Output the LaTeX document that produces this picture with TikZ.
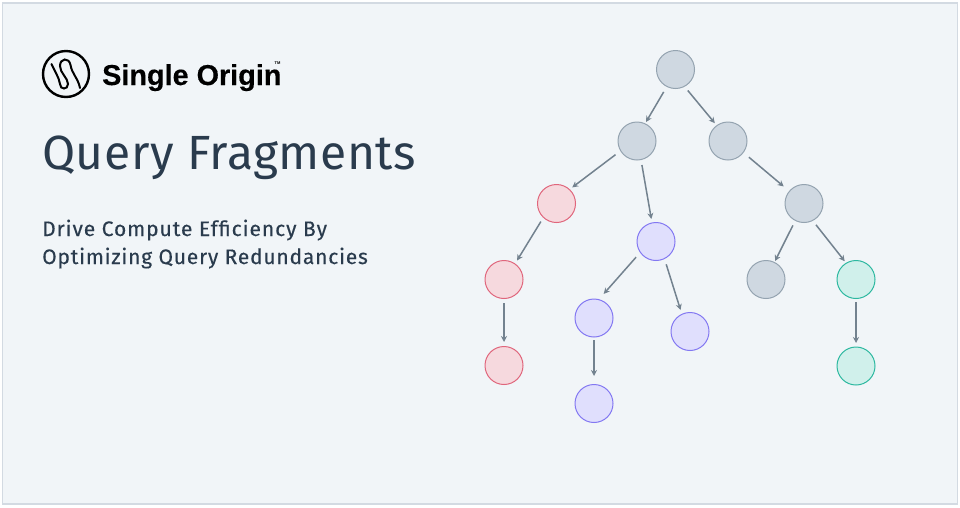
\documentclass[tikz,border=0pt]{standalone}
\usepackage{fontspec}
\setmainfont{Fira Sans}
\newfontfamily\logofont{Liberation Sans}
\usetikzlibrary{arrows.meta}
\definecolor{pagebg}{HTML}{F1F5F8}
\definecolor{framecol}{HTML}{D3DAE2}
\definecolor{inkcol}{HTML}{2A3B4D}
\definecolor{edgecol}{HTML}{73828F}
\definecolor{grayfill}{HTML}{CFD8E1}
\definecolor{graydraw}{HTML}{94A3B0}
\definecolor{redfill}{HTML}{F6D9DE}
\definecolor{reddraw}{HTML}{E0667C}
\definecolor{bluefill}{HTML}{E0DFFD}
\definecolor{bluedraw}{HTML}{8378F2}
\definecolor{tealfill}{HTML}{D0F0EB}
\definecolor{tealdraw}{HTML}{2DB8A0}
\tikzset{
  tree/.style={circle,line width=1pt,minimum size=38pt,inner sep=0pt},
  graytree/.style={tree,draw=graydraw,fill=grayfill},
  redtree/.style={tree,draw=reddraw,fill=redfill},
  bluetree/.style={tree,draw=bluedraw,fill=bluefill},
  tealtree/.style={tree,draw=tealdraw,fill=tealfill},
  gap/.style 2 args={shorten <=#1pt,shorten >=#2pt}
}
\begin{document}
\begin{tikzpicture}[x=1pt,y=-1pt]
    \useasboundingbox (0,0) rectangle (960,507);
    \fill[white] (0,0) rectangle (960,507);
    \draw[framecol,fill=pagebg,line width=1.2pt] (2.6,3) rectangle (957.6,504);

    % logo
    \draw[black,line width=2.4pt] (66,74) circle (23);
    \draw[black,line width=2pt,line cap=round] (51.5,64)
      .. controls (54,70) and (59,77) .. (60,84)
      .. controls (60,90) and (68,90) .. (68,84)
      .. controls (68,78) and (60,73) .. (60,66)
      .. controls (60,58) and (69,57) .. (70.5,65)
      .. controls (72,74) and (78,78) .. (80,88);

    \node[anchor=base west,inner sep=0pt,font=\logofont\bfseries\fontsize{28.8}{29}\selectfont\addfontfeature{FakeBold=0.3},text=black] (logo) at (102,85) {Single Origin};
    \node[anchor=base west,inner sep=0pt,font=\logofont\bfseries\fontsize{4}{4}\selectfont,text=black] (tm) at (274.5,64) {TM};
    \node[anchor=base west,inner sep=0pt,font=\fontsize{48}{48}\selectfont\addfontfeature{LetterSpace=1.2},text=inkcol] (title) at (42,169) {Query Fragments};
    \node[anchor=base west,inner sep=0pt,font=\fontsize{21}{21}\selectfont\addfontfeature{LetterSpace=4.5,FakeBold=0.3},text=inkcol] (sub1) at (42,236) {Drive Compute Efficiency By};
    \node[anchor=base west,inner sep=0pt,font=\fontsize{21}{21}\selectfont\addfontfeature{LetterSpace=3.8,FakeBold=0.3},text=inkcol] (sub2) at (42,264) {Optimizing Query Redundancies};

    \begin{scope}
      \node[graytree] (1) at (675.5,69.5) {};
      \node[graytree] (2) at (637,141) {};
      \node[graytree] (3) at (728,141) {};
      \node[redtree] (4) at (556.5,203.5) {};
      \node[bluetree] (5) at (656,241.5) {};
      \node[graytree] (6) at (804,203.5) {};
      \node[redtree] (7) at (504,279.5) {};
      \node[bluetree] (8) at (594,318) {};
      \node[bluetree] (9) at (690,331.5) {};
      \node[graytree] (10) at (766,279.5) {};
      \node[tealtree] (11) at (856,279.5) {};
      \node[redtree] (12) at (504,365.5) {};
      \node[bluetree] (13) at (594,403.5) {};
      \node[tealtree] (14) at (856,366) {};
    \end{scope}

    \begin{scope}[>={Stealth[length=6pt,width=6pt]},
        every edge/.style={draw=edgecol,line width=1.5pt}]
      \path [->,gap={5.8}{1.5}] (1.243) edge (2.65);
      \path [->,gap={4.9}{2.7}] (1.298) edge (3.126);
      \path [->,gap={6}{3}] (2.211) edge (4.47);
      \path [->,gap={5}{3.5}] (2.282) edge (5.102);
      \path [->,gap={7}{7}] (3.323) edge (6.140);
      \path [->,gap={4.5}{3.5}] (4.227) edge (7.55);
      \path [->,gap={6}{7}] (5.215) edge (8.75);
      \path [->,gap={5.5}{4}] (5.296) edge (9.115);
      \path [->,gap={5}{1}] (6.243) edge (10.64);
      \path [->,gap={5}{2}] (6.297) edge (11.121);
      \path [->,gap={4}{4}] (7.270) edge (12.90);
      \path [->,gap={2.5}{8}] (8.270) edge (13.90);
      \path [->,gap={3}{3.5}] (11.270) edge (14.90);
    \end{scope}
  \end{tikzpicture}
\end{document}
